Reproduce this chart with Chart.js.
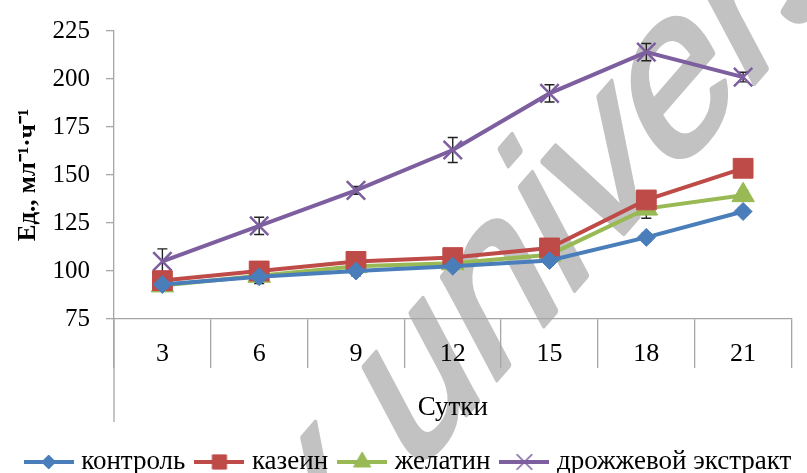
<!DOCTYPE html>
<html>
<head>
<meta charset="utf-8">
<script src="https://cdn.jsdelivr.net/npm/chart.js@4/dist/chart.umd.min.js"></script>
<style>
  html, body { margin: 0; padding: 0; background: #fff; }
  canvas { display: block; }
</style>
</head>
<body>
<canvas id="myChart" width="807" height="473"></canvas>
<script>
// days of cultivation
const days = ['3', '6', '9', '12', '15', '18', '21'];

// activity, units per ml per hour
const control = [93, 97, 100, 102.5, 105.5, 117.5, 131];
const casein = [95, 100, 105, 107, 112, 137, 153.5];
const gelatin = [92.5, 97.5, 102.5, 104, 108.5, 132.5, 139.5];
const yeast = [105, 123.5, 142, 163, 192.5, 214, 201];

// standard deviations
const controlErr = [1.5, 3.5, 2.5, 1.5, 1.5, 2, 2];
const caseinErr = [1.5, 1.5, 1.5, 1.5, 1.5, 2, 1.5];
const gelatinErr = [1.5, 2, 1.5, 1.5, 1.5, 5, 2.5];
const yeastErr = [6.5, 4.5, 2, 6.5, 4.5, 4.5, 2.5];

const seriesNames = ['контроль', 'казеин', 'желатин', 'дрожжевой экстракт'];
const seriesColors = ['#4a7ebb', '#be4b48', '#98b954', '#7d5fa0'];

const serif = "'Liberation Serif', 'Times New Roman', serif";

// little line-with-marker pictures for the legend
function legendIcon(color, style, radius) {
  const c = document.createElement('canvas');
  c.width = 50;
  c.height = 24;
  const g = c.getContext('2d');
  g.strokeStyle = color;
  g.fillStyle = color;
  g.lineWidth = 4;
  g.beginPath();
  g.moveTo(0, 12);
  g.lineTo(50, 12);
  g.stroke();
  g.lineWidth = style === 'crossRot' ? 1.5 : 1;
  Chart.helpers.drawPoint(g, { pointStyle: style, radius: radius, borderWidth: g.lineWidth, rotation: 0 }, 25, 12);
  return c;
}

const styles = ['rectRot', 'rect', 'triangle', 'crossRot'];
const radii = [9, 14, 13, 13];
const legendRadii = [7, 10, 10, 11];
const legendIcons = styles.map((s, i) => legendIcon(seriesColors[i], s, legendRadii[i]));

function makeSet(i, data, errors) {
  return {
    label: seriesNames[i],
    data: data,
    errors: errors,
    borderColor: seriesColors[i],
    backgroundColor: seriesColors[i],
    borderWidth: 4,
    pointStyle: styles[i],
    pointRadius: radii[i],
    pointBorderWidth: styles[i] === 'crossRot' ? 2.5 : 1,
    pointBorderColor: seriesColors[i],
    pointBackgroundColor: seriesColors[i],
    tension: 0
  };
}

// vertical error bars with caps, under the markers
const errorBars = {
  id: 'errorBars',
  beforeDatasetsDraw(chart) {
    const { ctx, scales: { x, y } } = chart;
    ctx.save();
    ctx.strokeStyle = '#222';
    ctx.lineWidth = 1.4;
    chart.data.datasets.forEach(ds => {
      ds.errors.forEach((e, j) => {
        const px = x.getPixelForValue(j);
        const top = y.getPixelForValue(ds.data[j] + e);
        const bot = y.getPixelForValue(ds.data[j] - e);
        ctx.beginPath();
        ctx.moveTo(px, top);
        ctx.lineTo(px, bot);
        ctx.moveTo(px - 5, top);
        ctx.lineTo(px + 5, top);
        ctx.moveTo(px - 5, bot);
        ctx.lineTo(px + 5, bot);
        ctx.stroke();
      });
    });
    ctx.restore();
  }
};

// long left border that runs down past the day labels
const axisFrame = {
  id: 'axisFrame',
  afterDraw(chart) {
    const { ctx, chartArea } = chart;
    ctx.save();
    ctx.strokeStyle = '#a6a6a6';
    ctx.lineWidth = 1.3;
    ctx.beginPath();
    ctx.moveTo(chartArea.left, chartArea.bottom);
    ctx.lineTo(chartArea.left, chartArea.bottom + 103);
    ctx.stroke();
    ctx.restore();
  }
};

// grey slanted stamp lying under everything
const stamp = {
  id: 'stamp',
  beforeDraw(chart) {
    const ctx = chart.ctx;
    const b = 49 * Math.PI / 180;   // baseline direction
    const t = 28 * Math.PI / 180;   // stem lean
    ctx.save();
    ctx.setTransform(Math.cos(b), -Math.sin(b), Math.sin(t) * 1.03, Math.cos(t) * 1.03, 300, 606);
    ctx.fillStyle = '#c2c2c2';
    ctx.strokeStyle = '#c2c2c2';
    ctx.lineWidth = 5;
    ctx.lineJoin = 'round';
    ctx.font = "214px 'Liberation Sans', Arial, sans-serif";
    ctx.textBaseline = 'alphabetic';
    ctx.fillText('y univers', 0, 0);
    ctx.strokeText('y univers', 0, 0);
    ctx.restore();
  }
};

const ctx = document.getElementById('myChart').getContext('2d');

const myChart = new Chart(ctx, {
  type: 'line',
  data: {
    labels: days,
    datasets: [
      makeSet(0, control, controlErr),
      makeSet(1, casein, caseinErr),
      makeSet(2, gelatin, gelatinErr),
      makeSet(3, yeast, yeastErr)
    ]
  },
  options: {
    responsive: false,
    animation: false,
    devicePixelRatio: 1,
    layout: { padding: { left: 14, top: 28, right: 0, bottom: -12.5 } },
    plugins: {
      tooltip: { enabled: false },
      legend: {
        position: 'bottom',
        labels: {
          usePointStyle: true,
          pointStyleWidth: 38,
          color: '#000',
          font: { family: serif, size: 27, lineHeight: 1 },
          padding: 15,
          generateLabels(chart) {
            const items = Chart.defaults.plugins.legend.labels.generateLabels(chart);
            items.forEach((it, i) => { it.pointStyle = legendIcons[i]; });
            return items;
          }
        }
      }
    },
    scales: {
      x: {
        offset: true,
        afterFit(scale) { scale.height = 114.5; },
        grid: {
          offset: true,
          drawOnChartArea: false,
          tickLength: 49,
          color: '#a6a6a6',
          lineWidth: 1.3
        },
        border: { color: '#a6a6a6', width: 1.3 },
        ticks: {
          color: '#000',
          font: { family: serif, size: 26 },
          padding: -29,
          maxRotation: 0
        },
        title: {
          display: true,
          text: 'Сутки',
          color: '#000',
          font: { family: serif, size: 27 },
          padding: { top: 0, bottom: 9 }
        }
      },
      y: {
        min: 75,
        max: 225,
        afterFit(scale) { scale.width = 100; },
        grid: {
          drawOnChartArea: false,
          tickLength: 8,
          color: '#a6a6a6',
          lineWidth: 1.3
        },
        border: { color: '#a6a6a6', width: 1.3 },
        ticks: {
          stepSize: 25,
          color: '#000',
          padding: 16,
          font: { family: serif, size: 25 }
        },
        title: {
          display: true,
          text: 'Ед., мл⁻¹·ч⁻¹',
          color: '#000',
          font: { family: serif, size: 25, weight: 'bold' },
          padding: { top: 0, bottom: 0 }
        }
      }
    }
  },
  plugins: [stamp, errorBars, axisFrame]
});
</script>
</body>
</html>
